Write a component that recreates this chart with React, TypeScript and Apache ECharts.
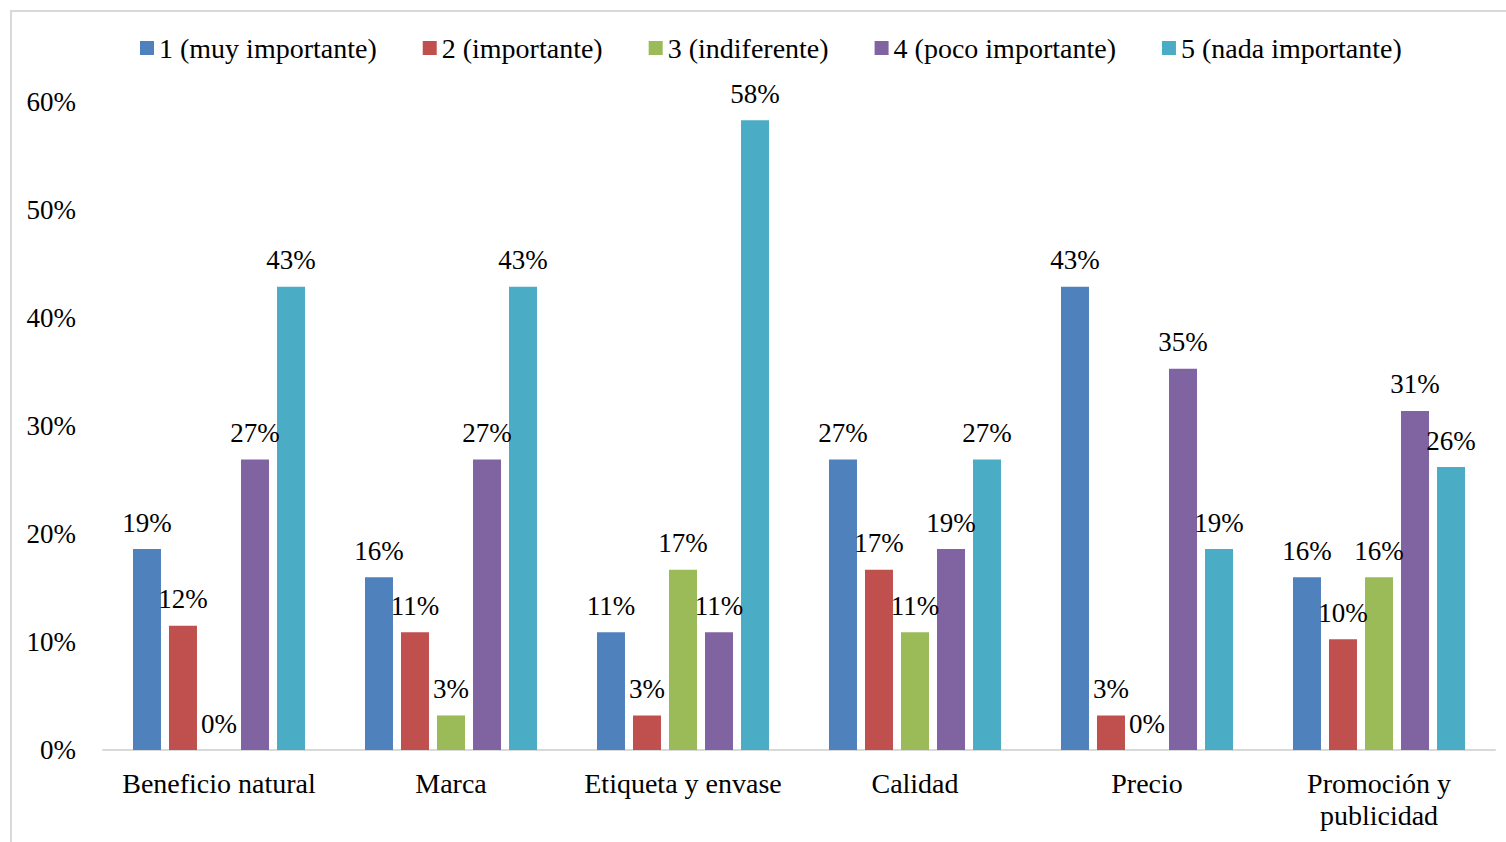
import React, { useEffect, useRef } from "react";
import * as echarts from "echarts";

const categories = [
  "Beneficio natural",
  "Marca",
  "Etiqueta y envase",
  "Calidad",
  "Precio",
  "Promoción y\npublicidad",
];

const seriesNames = [
  "1 (muy importante)",
  "2 (importante)",
  "3 (indiferente)",
  "4 (poco importante)",
  "5 (nada importante)",
];

const s1 = [0.186, 0.16, 0.109, 0.269, 0.429, 0.16];
const s2 = [0.115, 0.109, 0.032, 0.167, 0.032, 0.1025];
const s3 = [0.0, 0.032, 0.167, 0.109, 0.0, 0.16];
const s4 = [0.269, 0.269, 0.109, 0.186, 0.353, 0.314];
const s5 = [0.429, 0.429, 0.583, 0.269, 0.186, 0.262];

const seriesValues = [s1, s2, s3, s4, s5];
const colors = ["#4F81BD", "#C0504D", "#9BBB59", "#8064A2", "#4BACC6"];

const yTicks = [0, 0.1, 0.2, 0.3, 0.4, 0.5, 0.6];

const FONT = "'Liberation Serif', 'Times New Roman', serif";

export default function App() {
  const ref = useRef<HTMLDivElement>(null);

  useEffect(() => {
    document.body.style.margin = "0";
    if (!ref.current) return;
    const chart = echarts.init(ref.current, undefined, { renderer: "svg" });
    chart.setOption({
      animation: false,
      backgroundColor: "#ffffff",
      textStyle: { fontFamily: FONT },
      graphic: [
        {
          type: "rect",
          shape: { x: 11, y: 11, width: 1500, height: 840 },
          style: { fill: "none", stroke: "#d9d9d9", lineWidth: 2 },
          silent: true,
        },
      ],
      legend: {
        left: 135,
        top: 29,
        itemWidth: 14,
        itemHeight: 14,
        itemGap: 46,
        icon: "rect",
        textStyle: { fontFamily: FONT, fontSize: 28, color: "#000" },
        data: seriesNames,
      },
      grid: { left: 103, right: 11, top: 102, bottom: 92, containLabel: false },
      xAxis: {
        type: "category",
        data: categories,
        axisLine: { show: true, lineStyle: { color: "#d9d9d9", width: 2 } },
        axisTick: { show: false },
        axisLabel: {
          fontFamily: FONT,
          fontSize: 28,
          color: "#000",
          margin: 17,
          lineHeight: 32,
          interval: 0,
        },
      },
      yAxis: {
        type: "value",
        min: yTicks[0],
        max: yTicks[yTicks.length - 1],
        interval: 0.1,
        axisLine: { show: false },
        axisTick: { show: false },
        splitLine: { show: false },
        axisLabel: {
          fontFamily: FONT,
          fontSize: 27,
          color: "#000",
          margin: 27,
          formatter: (v: number) => `${Math.round(v * 100)}%`,
        },
      },
      series: seriesValues.map((vals, i) => ({
        name: seriesNames[i],
        type: "bar",
        data: vals,
        barWidth: 28,
        barGap: "28.6%",
        barCategoryGap: "26%",
        itemStyle: { color: colors[i] },
        label: {
          show: true,
          position: "top",
          distance: 13,
          fontFamily: FONT,
          fontSize: 27,
          color: "#000",
          formatter: (p: any) => `${Math.round(p.value * 100)}%`,
        },
      })),
    });
    return () => chart.dispose();
  }, []);

  return <div ref={ref} style={{ width: 1506, height: 842 }} />;
}
